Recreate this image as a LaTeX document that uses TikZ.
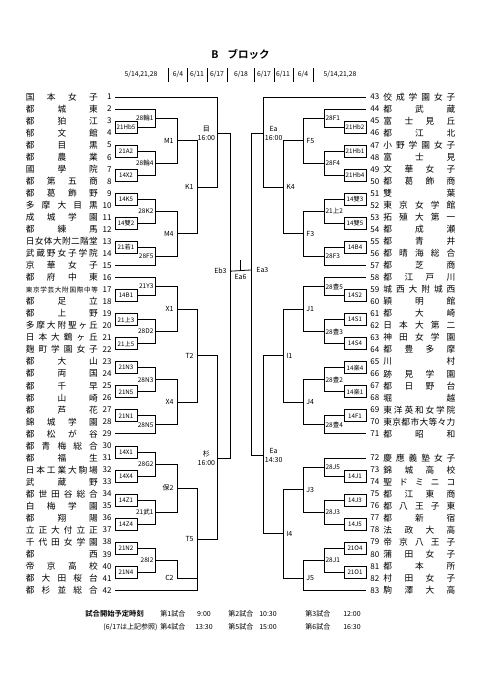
\documentclass[tikz,border=0pt]{standalone}
\usepackage{fontspec}
\setmainfont{Noto Sans CJK JP}[BoldFont={Noto Sans CJK JP Bold}]
\usetikzlibrary{calc}

\newlength\namew
\setlength\namew{72pt}
\newcommand\jnend{}
\newcommand\spreadname[1]{\makebox[\namew][s]{\spreadfirst#1\jnend}}
\def\spreadfirst#1{#1\spreadrest}
\def\spreadrest#1{\ifx#1\jnend\else\hfill#1\expandafter\spreadrest\fi}

% bracket: [output fraction]{top}{bottom}{column}{name}
\newcommand\bmatch[5][.5]{%
  \draw (#2) -- (#2 -| #4) -- (#3 -| #4) -- (#3);
  \coordinate (#5) at ($(#2 -| #4)!#1!(#3 -| #4)$);}

\begin{document}
\begin{tikzpicture}[x=1pt, y=-1pt, line width=.8pt,
  every node/.style={inner sep=0pt},
  nm/.style={font=\fontsize{8.7}{9}\selectfont},
  no/.style={font=\fontsize{8}{9}\selectfont},
  tag/.style={font=\fontsize{6.2}{7}\selectfont},
  lvla/.style={font=\fontsize{6.5}{7}\selectfont},
  lvl/.style={font=\fontsize{7}{9}\selectfont, align=center},
  hd/.style={font=\fontsize{6.8}{8}\selectfont},
  ft/.style={font=\fontsize{7}{8}\selectfont}]
\useasboundingbox (0,0) rectangle (481,680);

\coordinate (bxL) at (137,0);
\coordinate (c1L) at (155,0);
\coordinate (c2L) at (177,0);
\coordinate (c3L) at (197,0);
\coordinate (c4L) at (217,0);
\coordinate (cCL) at (230,0);
\coordinate (bxR) at (344,0);
\coordinate (c1R) at (324,0);
\coordinate (c2R) at (303,0);
\coordinate (c3R) at (283,0);
\coordinate (c4R) at (263,0);
\coordinate (cCR) at (251,0);

% title and dates
\node[font=\bfseries\fontsize{10.5}{12}\selectfont] (title) at (240.5,54) {B\hspace{9pt}ブロック};
\node[hd] (dL) at (141,74) {5/14,21,28};
\node[hd] (d1) at (178,74) {6/4};
\node[hd] (d2) at (197,74) {6/11};
\node[hd] (d3) at (217,74) {6/17};
\node[hd] (d4) at (241,74) {6/18};
\node[hd] (d5) at (264,74) {6/17};
\node[hd] (d6) at (283,74) {6/11};
\node[hd] (d7) at (303,74) {6/4};
\node[hd] (dR) at (340,74) {5/14,21,28};
\foreach \x in {168,187,207,227,254,274,293,313}
  \draw[line width=.6pt] (\x,68) -- (\x,82);

% left teams
\foreach \i/\s in {1/国本女子, 2/都城東, 3/都狛江, 4/郁文館, 5/都目黒, 6/都農業,
  7/國學院, 8/都第五商, 9/都葛飾野, 10/多摩大目黒, 11/成城学園, 12/都練馬,
  13/日女体大附二階堂, 14/武蔵野女子学院, 15/京華女子, 16/都府中東,
  17/東京学芸大附国際中等, 18/都足立, 19/都上野, 20/多摩大附聖ヶ丘,
  21/日本大鶴ヶ丘, 22/麹町学園女子, 23/都大山, 24/都両国, 25/都千早,
  26/都山崎, 27/都芦花, 28/錦城学園, 29/都松が谷, 30/都青梅総合, 31/都福生,
  32/日本工業大駒場, 33/武蔵野, 34/都世田谷総合, 35/白梅学園, 36/都翔陽,
  37/立正大付立正, 38/千代田女学園, 39/都西, 40/帝京高校, 41/都大田桜台,
  42/都杉並総合}{
  \pgfmathsetmacro\y{85+12.03*\i}
  \coordinate (L\i) at (115,\y);
  \node[nm, anchor=west] (tl\i) at (25.5,\y)
    {\ifnum\i=17 \fontsize{6.6}{7}\selectfont\fi\expandafter\spreadname\expandafter{\s}};
  \node[no, anchor=east] (nl\i) at (112,\y) {\i};
}

% right teams
\foreach \n/\s in {43/佼成学園女子, 44/都武蔵, 45/富士見丘, 46/都江北,
  47/小野学園女子, 48/富士見, 49/文華女子, 50/都葛飾商, 51/雙葉, 52/東京女学館,
  53/拓殖大第一, 54/都成瀬, 55/都青井, 56/都晴海総合, 57/都芝商, 58/都江戸川,
  59/城西大附城西, 60/穎明館, 61/都大崎, 62/日本大第二, 63/神田女学園,
  64/都豊多摩, 65/川村, 66/跡見学園, 67/都日野台, 68/堀越, 69/東洋英和女学院,
  70/東京都市大等々力, 71/都昭和, 72/慶應義塾女子, 73/錦城高校, 74/聖ドミニコ,
  75/都江東商, 76/都八王子東, 77/都新宿, 78/法政大高, 79/帝京八王子,
  80/蒲田女子, 81/都本所, 82/村田女子, 83/駒澤大高}{
  \pgfmathtruncatemacro\r{\n<72 ? \n-42 : \n-41}
  \pgfmathsetmacro\y{85+12.03*\r}
  \coordinate (R\n) at (366,\y);
  \node[nm, anchor=west] (tr\n) at (383,\y) {\expandafter\spreadname\expandafter{\s}};
  \node[no, anchor=west] (nr\n) at (370,\y) {\n};
}

% first round boxes
\foreach \a/\lab in {3/21Hb5, 5/21A2, 7/14X2, 9/14K5, 11/14雙2, 13/21若1,
  17/14B1, 19/21上3, 21/21上5, 23/21N3, 25/21N5, 27/21N1, 30/14X1, 32/14X4,
  34/14Z1, 36/14Z4, 38/21N2, 40/21N4}{
  \pgfmathtruncatemacro\bb{\a+1}
  \draw (L\a) rectangle (L\bb -| bxL);
  \node[tag] (bt\a) at ($(L\a)!.5!(L\bb -| bxL)$) {\lab};
  \coordinate (b\a) at ($(L\a -| bxL)!.5!(L\bb -| bxL)$);
}
\foreach \a/\lab in {45/21Hb2, 47/21Hb1, 49/21Hb4, 51/14雙3, 53/14雙5, 55/14B4,
  59/14S2, 61/14S1, 63/14S4, 65/14楽4, 67/14楽1, 69/14F1, 73/14J1, 75/14J3,
  77/14J5, 79/21O4, 81/21O1}{
  \pgfmathtruncatemacro\bb{\a+1}
  \draw (R\a) rectangle (R\bb -| bxR);
  \node[tag] (ct\a) at ($(R\a)!.5!(R\bb -| bxR)$) {\lab};
  \coordinate (c\a) at ($(R\a -| bxR)!.5!(R\bb -| bxR)$);
}

% left bracket
\bmatch{L2}{b3}{c1L}{q1}
\bmatch{b5}{b7}{c1L}{q2}
\bmatch{q1}{q2}{c2L}{m1}
\bmatch{b9}{b11}{c1L}{q3}
\bmatch{b13}{L15}{c1L}{q4}
\bmatch{q3}{q4}{c2L}{m2}
\bmatch{m1}{m2}{c3L}{k1}
\bmatch[.4]{L1}{k1}{c4L}{s1}
\bmatch{L16}{b17}{c1L}{q5}
\bmatch{b19}{b21}{c1L}{q6}
\bmatch{q5}{q6}{c2L}{m3}
\bmatch{b23}{b25}{c1L}{q7}
\bmatch{b27}{L29}{c1L}{q8}
\bmatch{q7}{q8}{c2L}{m4}
\bmatch{m3}{m4}{c3L}{k2}
\bmatch{b30}{b32}{c1L}{q9}
\bmatch{b34}{b36}{c1L}{q10}
\bmatch{q9}{q10}{c2L}{m5}
\bmatch{b38}{b40}{c1L}{q11}
\coordinate (m6) at (177,578);
\draw (q11) -| (m6) -- (m6 -| c3L);
\bmatch{m5}{L42}{c3L}{k3}
\bmatch[.558]{k2}{k3}{c4L}{s2}

% right bracket
\bmatch{R44}{c45}{c1R}{p1}
\bmatch{c47}{c49}{c1R}{p2}
\bmatch{p1}{p2}{c2R}{n1}
\bmatch{c51}{c53}{c1R}{p3}
\bmatch{c55}{R57}{c1R}{p4}
\bmatch{p3}{p4}{c2R}{n2}
\bmatch{n1}{n2}{c3R}{k4}
\bmatch[.4]{R43}{k4}{c4R}{e1}
\bmatch{R58}{c59}{c1R}{p5}
\bmatch{c61}{c63}{c1R}{p6}
\bmatch{p5}{p6}{c2R}{n3}
\bmatch{c65}{c67}{c1R}{p7}
\bmatch{c69}{R71}{c1R}{p8}
\bmatch{p7}{p8}{c2R}{n4}
\bmatch{n3}{n4}{c3R}{i1}
\bmatch{R72}{c73}{c1R}{p9}
\bmatch{c75}{c77}{c1R}{p10}
\bmatch{p9}{p10}{c2R}{n5}
\bmatch{c79}{c81}{c1R}{p11}
\bmatch[.6]{p11}{R83}{c2R}{n6}
\bmatch{n5}{n6}{c3R}{i4}
\bmatch[.558]{i1}{i4}{c4R}{e2}

% final
\bmatch[.425]{s1}{s2}{cCL}{f1}
\bmatch[.425]{e1}{e2}{cCR}{f2}
\draw (f1) -- (f2);
\coordinate (fin) at ($(f1)!.5!(f2)$);
\draw (fin) -- ++(0,-11);

% labels
\foreach \c/\lab in {q1/28輪1, q2/28輪4, q3/28K2, q4/28F5, q5/21Y3, q6/28D2,
  q7/28N3, q8/28N5, q9/28G2, q10/21武1, q11/28I2}
  \node[lvla, left=1.2pt] (lab\c) at (\c) {\lab};
\foreach \c/\lab in {p1/28F1, p2/28F4, p3/21上2, p4/28F3, p5/28豊5, p6/28豊3,
  p7/28豊2, p8/28豊4, p9/28J5, p10/28J3, p11/28J1}
  \node[lvla, right=1.2pt] (lab\c) at (\c) {\lab};
\foreach \c/\lab in {m1/M1, m2/M4, m3/X1, m4/X4, m5/保2, m6/C2, k1/K1, k2/T2, k3/T5}
  \node[lvl, left=3pt] (lab\c) at (\c) {\lab};
\foreach \c/\lab in {n1/F5, n2/F3, n3/J1, n4/J4, n5/J3, n6/J5, k4/K4, i1/I1, i4/I4}
  \node[lvl, right=3pt] (lab\c) at (\c) {\lab};
\node[lvl, left=1.5pt] (labs1) at (s1) {目\\16:00};
\node[lvl, left=1.5pt] (labs2) at (s2) {杉\\16:00};
\node[lvl, right=1.5pt] (labe1) at (e1) {Ea\\16:00};
\node[lvl, right=1.5pt] (labe2) at (e2) {Ea\\14:30};
\node[lvl, left=3pt] (labf1) at (f1) {Eb3};
\node[lvl, right=5pt] (labf2) at (f2) {Ea3};
\node[lvl, below=3pt] (labfin) at (fin) {Ea6};

% start times
\node[ft, font=\bfseries\fontsize{7.3}{8}\selectfont, anchor=west] (ftt) at (85,614) {試合開始予定時刻};
\node[ft, anchor=east] (ftn) at (158,627) {(6/17は上記参照)};
\node[ft, anchor=west] (g1) at (160,614) {第1試合};
\node[ft] (h1) at (204,614) {9:00};
\node[ft, anchor=west] (g2) at (228,614) {第2試合};
\node[ft] (h2) at (268,614) {10:30};
\node[ft, anchor=west] (g3) at (305,614) {第3試合};
\node[ft] (h3) at (352,614) {12:00};
\node[ft, anchor=west] (g4) at (160,627) {第4試合};
\node[ft] (h4) at (204,627) {13:30};
\node[ft, anchor=west] (g5) at (228,627) {第5試合};
\node[ft] (h5) at (268,627) {15:00};
\node[ft, anchor=west] (g6) at (305,627) {第6試合};
\node[ft] (h6) at (352,627) {16:30};
\end{tikzpicture}
\end{document}
